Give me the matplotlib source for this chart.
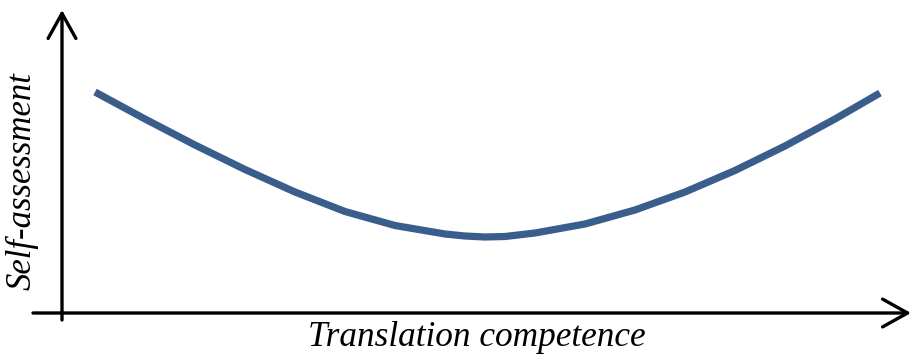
import matplotlib
matplotlib.use("Agg")
import matplotlib.pyplot as plt

# curve (axis origin = 0, 1 unit ~ 10 px)
competence = [3.3, 8.3, 13.3, 18.3, 23.3, 28.3, 33.3, 38.3, 40.3, 42.3,
              44.3, 47.3, 52.3, 57.3, 62.3, 67.3, 72.3, 77.3, 81.8]
self_assessment = [22.1, 19.4, 16.8, 14.35, 12.1, 10.15, 8.75, 7.9, 7.7, 7.6,
                   7.65, 8.0, 8.9, 10.3, 12.1, 14.25, 16.7, 19.4, 22.0]

x_label = "Translation competence"
y_label = "Self-assessment"

plt.rcParams['font.family'] = ['Liberation Serif', 'DejaVu Serif']

fig = plt.figure(figsize=(9.13, 3.54), dpi=100)
ax = fig.add_axes([0, 0, 1, 1])
ax.set_xlim(-6.2, 85.1)
ax.set_ylim(-4.1, 31.3)
ax.axis('off')

ax.plot(competence, self_assessment, color='#3A5E8C', lw=5.2,
        solid_capstyle='butt', solid_joinstyle='round')

arrow = dict(arrowstyle='->,head_length=1.8,head_width=1.0', lw=2.4,
             color='black', shrinkA=0, shrinkB=0)
# x axis
ax.annotate('', xy=(84.9, 0), xytext=(-2.9, 0), arrowprops=arrow)
# y axis
ax.annotate('', xy=(0, 30.3), xytext=(0, -0.7), arrowprops=arrow)

ax.text(41.5, -2.5, x_label, fontsize=25.4, style='italic',
        ha='center', va='center')
ax.text(-4.0, 13.2, y_label, fontsize=25, style='italic',
        ha='center', va='center', rotation=90)

fig.savefig('out.png', dpi=100)
